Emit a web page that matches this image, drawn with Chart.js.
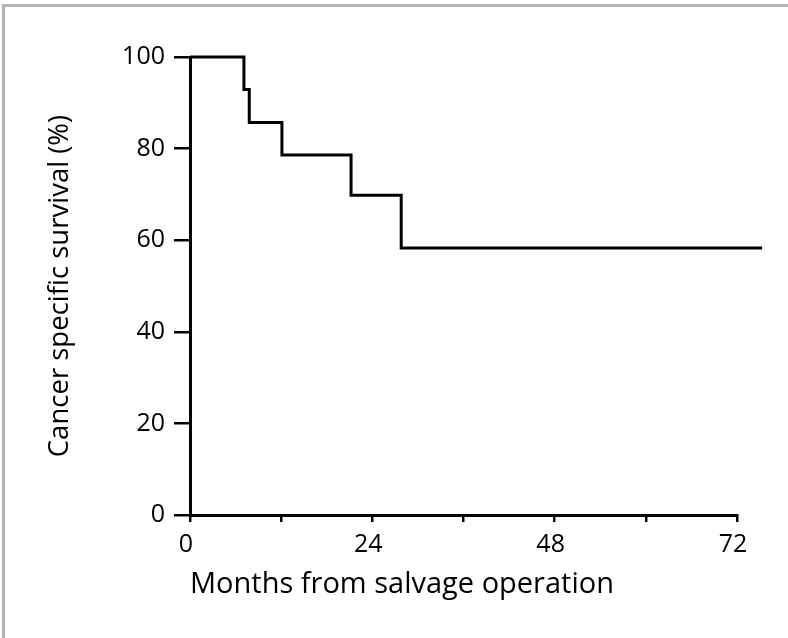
<!DOCTYPE html>
<html>
<head>
<meta charset="utf-8">
<script src="https://cdn.jsdelivr.net/npm/chart.js@4/dist/chart.umd.min.js"></script>
<style>
  html, body { margin: 0; padding: 0; background: #fff; }
  #wrap { position: relative; width: 788px; height: 638px; overflow: hidden; }
  #frame { position: absolute; left: 2px; top: 4px; right: -10px; bottom: -10px;
           border-left: 3px solid #b3b3b5; border-top: 3px solid #b3b3b5; }
  canvas { position: absolute; left: 0; top: 0; }
</style>
</head>
<body>
<div id="wrap">
  <div id="frame"></div>
  <canvas id="c" width="788" height="638"></canvas>
</div>
<script>
// Kaplan–Meier step points (month of event, survival % after event)
const months = [0, 7.1, 7.8, 12.1, 21.2, 27.8, 75.3];
const survival = [100, 92.9, 85.7, 78.6, 69.8, 58.3, 58.3];
const xTickLabels = [0, 24, 48, 72];
const yTicks = [0, 20, 40, 60, 80, 100];
const xTitle = 'Months from salvage operation';
const yTitle = 'Cancer specific survival (%)';

const FONT = "'Open Sans', sans-serif";
const points = months.map((m, i) => ({ x: m, y: survival[i] }));

new Chart(document.getElementById('c'), {
  type: 'line',
  data: {
    datasets: [{
      data: points,
      stepped: 'before',
      borderColor: '#000',
      borderWidth: 3,
      pointRadius: 0,
      fill: false,
      clip: false,
      tension: 0
    }]
  },
  options: {
    responsive: false,
    animation: false,
    devicePixelRatio: 1,
    layout: { padding: { top: 57, right: 51, bottom: 0, left: 0 } },
    plugins: { legend: { display: false }, tooltip: { enabled: false } },
    scales: {
      x: {
        type: 'linear',
        min: 0, max: 72,
        afterFit: s => { s.height = 123; },
        border: { display: true, color: '#000', width: 3 },
        grid: { drawOnChartArea: false, drawTicks: true, tickLength: 7, color: '#000', lineWidth: 2.5 },
        ticks: {
          stepSize: 12,
          padding: 8,
          labelOffset: -4,
          color: '#000',
          font: { family: FONT, size: 25 },
          maxRotation: 0,
          callback: v => xTickLabels.includes(v) ? String(v) : ''
        },
        title: {
          display: true, text: xTitle, align: 'start', color: '#000',
          font: { family: FONT, size: 29 },
          padding: { top: 0, bottom: 36 }
        }
      },
      y: {
        type: 'linear',
        min: 0, max: 100,
        afterFit: s => { s.width = 190; },
        border: { display: true, color: '#000', width: 3 },
        grid: { drawOnChartArea: false, drawTicks: true, tickLength: 16, color: '#000', lineWidth: 2.5 },
        afterBuildTicks: s => { s.ticks = yTicks.map(v => ({ value: v })); },
        ticks: {
          padding: 9,
          color: '#000',
          font: { family: FONT, size: 25 }
        },
        title: {
          display: true, text: yTitle, color: '#000',
          font: { family: FONT, size: 27.5 },
          padding: { top: 44, bottom: 0 }
        }
      }
    }
  }
});
</script>
</body>
</html>
